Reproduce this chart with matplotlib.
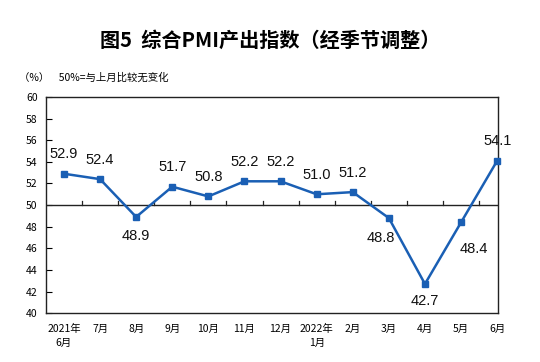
import matplotlib
matplotlib.use("Agg")
import matplotlib.pyplot as plt
import numpy as np

plt.rcParams['font.family'] = ['Noto Sans CJK SC', 'DejaVu Sans']

categories = ["2021年\n6月", "7月", "8月", "9月", "10月", "11月", "12月",
              "2022年\n1月", "2月", "3月", "4月", "5月", "6月"]
values = [52.9, 52.4, 48.9, 51.7, 50.8, 52.2, 52.2, 51.0, 51.2, 48.8, 42.7, 48.4, 54.1]
label_below = [False, False, True, False, False, False, False, False, False, True, True, True, False]
# label offsets in points (style only)
label_dx = [0, 0, 0, 0, 0, 0, 0, 0, 0, -6, 0, 9, 0]
label_dy = [9, 9, -9, 9, 9, 9, 9, 9, 9, -9, -7, -14, 9]
yticks = list(range(40, 61, 2))

fig = plt.figure(figsize=(5.4, 3.62), dpi=100)
ax = fig.add_axes([0.085, 0.135, 0.837, 0.597])

x = np.arange(len(values))
color = "#1a5fb4"
ax.plot(x, values, color=color, lw=1.8, marker="s", ms=4.5, zorder=3, clip_on=False)
for xi, v, b, dx, dy in zip(x, values, label_below, label_dx, label_dy):
    ax.annotate(f"{v:.1f}", (xi, v), xytext=(dx, dy), textcoords="offset points",
                ha="center", va="top" if b else "bottom", fontsize=10.5,
                family=['Liberation Sans', 'DejaVu Sans'], color="#111111")

ax.set_xlim(-0.5, 12.02)
ax.set_ylim(40, 60)
ax.set_yticks(yticks)
ax.tick_params(axis='y', direction='in', length=4, labelsize=7.5, pad=6, width=0.8)
ax.set_xticks([])
for s in ax.spines.values():
    s.set_linewidth(1.0)
    s.set_color("#222222")

# horizontal reference line at 50 with tick marks between categories
ax.axhline(50, color="#222222", lw=1.0, zorder=2)
for b in np.arange(0.5, 12, 1.0):
    ax.plot([b, b], [50, 50.35], color="#222222", lw=0.9, zorder=2)

for xi, c in zip(x, categories):
    ax.text(xi, 39.0, c, ha="center", va="top", fontsize=7.5, linespacing=1.5)

fig.text(0.5, 0.888, "图5  综合PMI产出指数（经季节调整）", ha="center", va="center",
         fontsize=14.5, fontweight="bold")
fig.text(0.035, 0.785, "（%）    50%=与上月比较无变化", ha="left", va="center", fontsize=7.5)

fig.savefig("out.png", dpi=100)
